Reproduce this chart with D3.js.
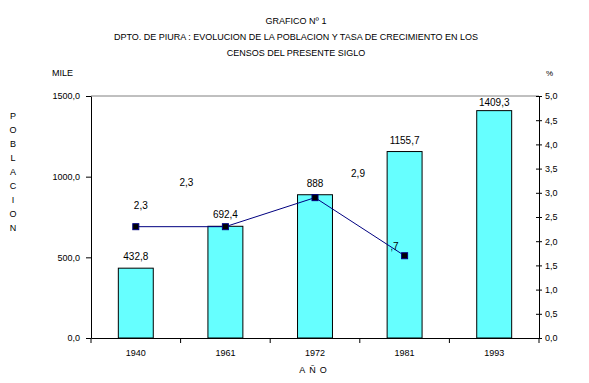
<!DOCTYPE html>
<html>
<head>
<meta charset="utf-8">
<style>
    body { margin: 0; background: #fff; }
    text { font-family: Arial, "Liberation Sans", sans-serif; fill: #000; }
</style>
</head>
<body>
<script src="https://cdn.jsdelivr.net/npm/d3@7"></script>
<script type="text/javascript">
    // censos
    var years = ['1940', '1961', '1972', '1981', '1993'];
    var poblacion = [432.8, 692.4, 888, 1155.7, 1409.3];
    // tasa de crecimiento entre censos (%)
    var tasaYears = ['1940', '1961', '1972', '1981'];
    var tasa = [2.3, 2.3, 2.9, 1.7];
    var leftTicks = [0, 500, 1000, 1500];
    var rightTicks = [0, 0.5, 1, 1.5, 2, 2.5, 3, 3.5, 4, 4.5, 5];
    var titleLines = ['GRAFICO Nº 1',
        'DPTO. DE PIURA : EVOLUCION DE LA POBLACION Y TASA DE CRECIMIENTO EN LOS',
        'CENSOS DEL PRESENTE SIGLO'];
    // labels of the line were dragged around in the original sheet
    var tasaLabelShift = [[5, -18], [-39, -41], [43, -21], [-13, -6]];

    var width = 589, height = 383;
    var pLeft = 91, pRight = 539, pTop = 96, pBottom = 338;

    var comma = function (f) { return function (d) { return d3.format(f)(d).replace('.', ','); }; };

    var svg = d3.select('body').append('svg')
        .attr('width', width)
        .attr('height', height);

    var x = d3.scaleBand().domain(years).range([pLeft, pRight])
        .paddingInner(0.61).paddingOuter(0.305);
    var yL = d3.scaleLinear().domain([0, 1500]).range([pBottom, pTop]);
    var yR = d3.scaleLinear().domain([0, 5]).range([pBottom, pTop]);

    // titles
    svg.selectAll('text.title').data(titleLines).enter().append('text')
        .attr('class', 'title')
        .attr('x', 296)
        .attr('y', function (d, i) { return 24 + i * 16; })
        .attr('text-anchor', 'middle')
        .style('font-size', '9px')
        .text(function (d) { return d; });

    svg.append('text').attr('x', 52).attr('y', 76).style('font-size', '9px').text('MILE');
    svg.append('text').attr('x', 546).attr('y', 76).style('font-size', '8px').text('%');

    svg.selectAll('text.vlab').data('POBLACION'.split('')).enter().append('text')
        .attr('class', 'vlab')
        .attr('x', 13)
        .attr('y', function (d, i) { return 119 + i * 14; })
        .attr('text-anchor', 'middle')
        .style('font-size', '9px')
        .text(function (d) { return d; });

    svg.append('text').attr('x', 315).attr('y', 373).attr('text-anchor', 'middle')
        .style('font-size', '9px').style('letter-spacing', '4px').text('AÑO');

    // top border of plot area
    svg.append('line').attr('x1', pLeft).attr('x2', pRight).attr('y1', pTop).attr('y2', pTop)
        .attr('stroke', '#808080');

    var l17 = tasaYears.length - 1;
    svg.append('clipPath').attr('id', 'cl17').append('rect')
        .attr('x', x(tasaYears[l17]) + 4).attr('y', pTop).attr('width', 60).attr('height', 200);

    // bars
    svg.selectAll('rect.bar').data(poblacion).enter().append('rect')
        .attr('class', 'bar')
        .attr('x', function (d, i) { return x(years[i]); })
        .attr('y', function (d) { return yL(d); })
        .attr('width', x.bandwidth())
        .attr('height', function (d) { return pBottom - yL(d); })
        .attr('fill', '#66FFFF')
        .attr('stroke', '#000')
        .attr('stroke-width', 1);

    svg.selectAll('text.blab').data(poblacion).enter().append('text')
        .attr('class', 'blab')
        .attr('x', function (d, i) { return x(years[i]) + x.bandwidth() / 2; })
        .attr('y', function (d) { return Math.max(yL(d) - 8, pTop + 10); })
        .attr('text-anchor', 'middle')
        .style('font-size', '10px')
        .text(function (d) { return comma('')(d); });

    // line
    var cx = function (i) { return x(tasaYears[i]) + x.bandwidth() / 2; };
    var line = d3.line()
        .x(function (d, i) { return cx(i); })
        .y(function (d) { return yR(d); });

    svg.append('path').datum(tasa)
        .attr('d', line)
        .attr('fill', 'none')
        .attr('stroke', '#000080')
        .attr('stroke-width', 1);

    svg.selectAll('rect.pt').data(tasa).enter().append('rect')
        .attr('class', 'pt')
        .attr('x', function (d, i) { return cx(i) - 3; })
        .attr('y', function (d) { return yR(d) - 3; })
        .attr('width', 6).attr('height', 6)
        .attr('fill', '#000')
        .attr('stroke', '#000080');

    svg.selectAll('text.tlab').data(tasa).enter().append('text')
        .attr('class', 'tlab')
        .attr('x', function (d, i) { return cx(i) + tasaLabelShift[i][0]; })
        .attr('y', function (d, i) { return yR(d) + tasaLabelShift[i][1]; })
        .attr('text-anchor', 'middle')
        .attr('clip-path', function (d, i) { return i === l17 ? 'url(#cl17)' : null; })
        .style('font-size', '10px')
        .text(function (d) { return comma('.1f')(d); });

    // axes
    var axL = svg.append('g').attr('transform', 'translate(' + pLeft + ',0)')
        .call(d3.axisLeft(yL).tickValues(leftTicks).tickSize(5).tickPadding(6).tickSizeOuter(0).tickFormat(comma('.1f')));
    var axR = svg.append('g').attr('transform', 'translate(' + pRight + ',0)')
        .call(d3.axisRight(yR).tickValues(rightTicks).tickSize(3).tickSizeOuter(0).tickFormat(comma('.1f')));
    axR.selectAll('.tick line').attr('x1', -3);
    axR.selectAll('.tick text').attr('x', 6);

    var axB = svg.append('g').attr('transform', 'translate(0,' + pBottom + ')')
        .call(d3.axisBottom(x).tickSize(0).tickPadding(12));
    axB.selectAll('.tick text').style('font-size', '9px');

    svg.selectAll('line.xt').data(d3.range(years.length + 1)).enter().append('line')
        .attr('class', 'xt')
        .attr('x1', function (i) { return pLeft + i * x.step(); })
        .attr('x2', function (i) { return pLeft + i * x.step(); })
        .attr('y1', pBottom).attr('y2', pBottom + 5)
        .attr('stroke', '#000');

    [axL, axR, axB].forEach(function (g) {
        g.select('.domain').attr('stroke', '#000');
        g.selectAll('.tick line').attr('stroke', '#000');
        g.selectAll('text').attr('fill', '#000').style('font-family', 'Arial, "Liberation Sans", sans-serif');
    });
    axL.selectAll('text').style('font-size', '9px');
    axR.selectAll('text').style('font-size', '9px');
</script>
</body>
</html>
